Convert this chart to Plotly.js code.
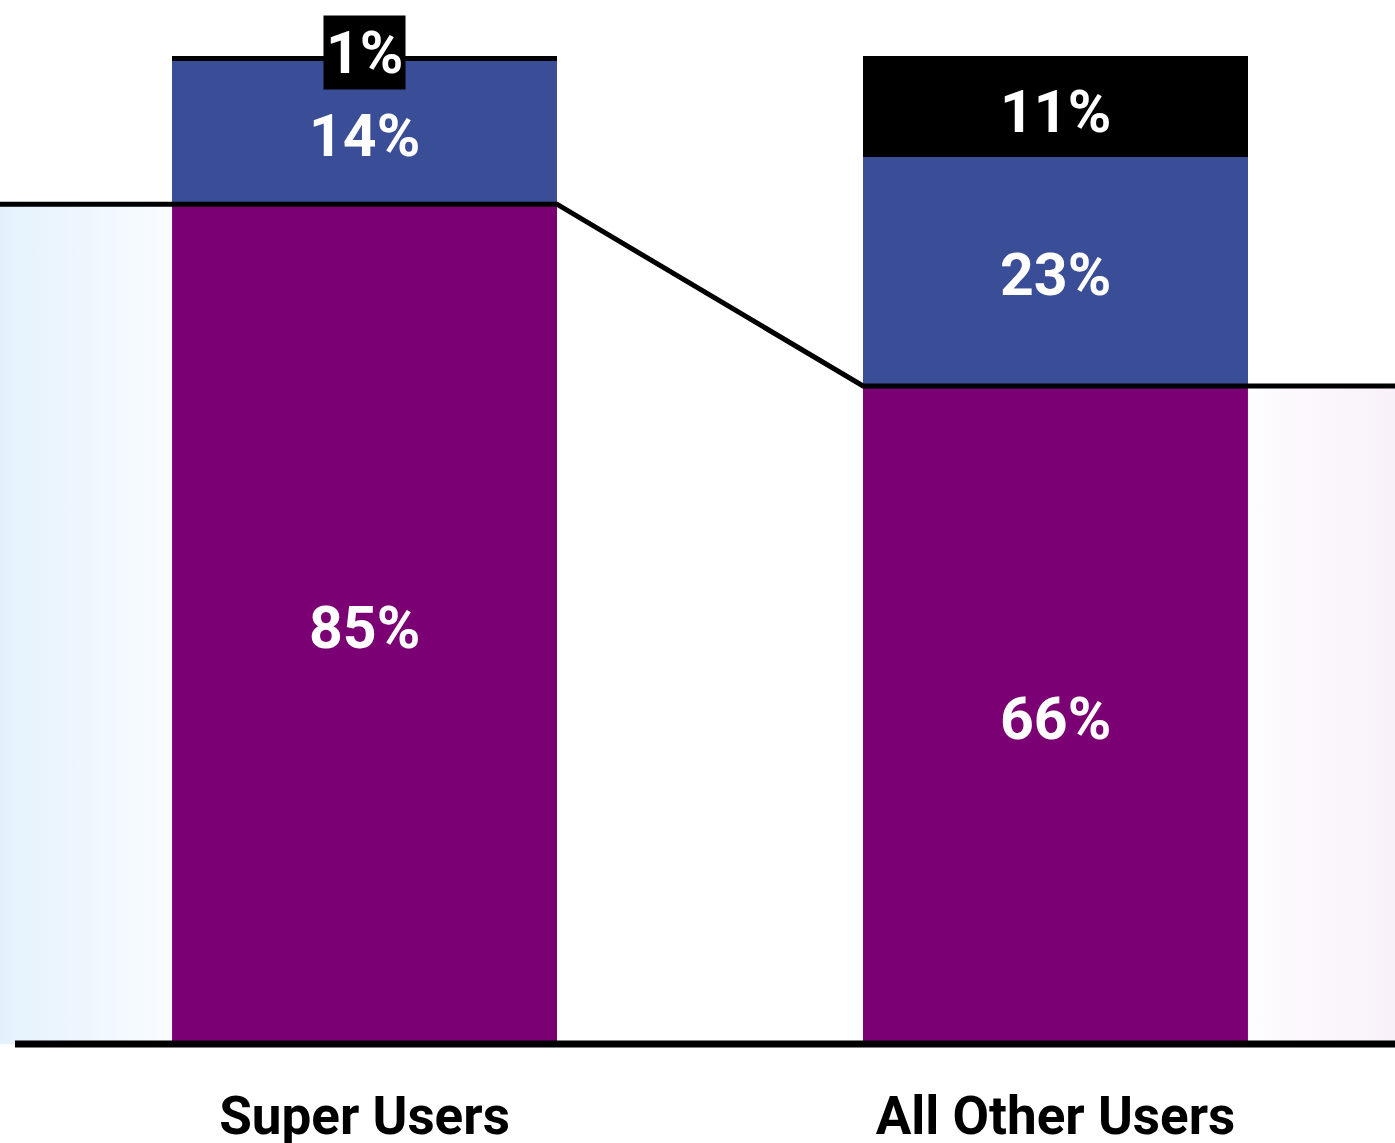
<!DOCTYPE html>
<html>
<head>
<meta charset="utf-8">
<script src="https://cdn.plot.ly/plotly-3.0.1.min.js"></script>
<style>html,body{margin:0;padding:0;background:#fff;}#chart{width:1395px;height:1143px;}</style>
</head>
<body>
<div id="chart"></div>
<script>
// Data
const categories = ["Super Users", "All Other Users"];
const positive = [85, 66.6];
const neutral = [14.5, 23.2];
const negative = [0.5, 10.2];
const positiveLabels = ["85%", "66%"];
const neutralLabels = ["14%", "23%"];
const negativeLabels = ["1%", "11%"];

const colPositive = "#7a0074";
const colNeutral = "#3a4d97";
const colNegative = "#000000";

const xs = [0, 1];
const barWidth = 0.557;
const half = barWidth / 2;
const xMin = -0.5275, xMax = 1.4913;
const yMax = 105.67;

const traces = [];

// soft background fills outside bars, below the connector line
traces.push({
  x: [xMin, xs[0] - half], y: [positive[0], positive[0]],
  type: "scatter", mode: "none", fill: "tozeroy",
  fillgradient: {type: "horizontal", colorscale: [[0, "#e4f1fc"], [1, "#f9fcff"]]},
  hoverinfo: "skip", showlegend: false
});
traces.push({
  x: [xs[1] + half, xMax], y: [positive[1], positive[1]],
  type: "scatter", mode: "none", fill: "tozeroy",
  fillgradient: {type: "horizontal", colorscale: [[0, "#fdfcfe"], [1, "#f9f1fa"]]},
  hoverinfo: "skip", showlegend: false
});

traces.push({x: xs, y: positive, type: "bar", width: barWidth, marker: {color: colPositive}, hoverinfo: "skip", showlegend: false});
traces.push({x: xs, y: neutral, type: "bar", width: barWidth, marker: {color: colNeutral}, hoverinfo: "skip", showlegend: false});
traces.push({x: xs, y: negative, type: "bar", width: barWidth, marker: {color: colNegative}, hoverinfo: "skip", showlegend: false});

// connector line at the top of the purple segment
traces.push({
  x: [xMin, xs[0] + half, xs[1] - half, xMax],
  y: [positive[0], positive[0], positive[1], positive[1]],
  type: "scatter", mode: "lines", line: {color: "#000", width: 5},
  hoverinfo: "skip", showlegend: false
});

const labelFont = {family: "Roboto, sans-serif", size: 59, color: "#ffffff", weight: "bold"};
const annotations = [];
for (let i = 0; i < xs.length; i++) {
  annotations.push({x: xs[i], y: positive[i] / 2, yshift: -3, text: positiveLabels[i], showarrow: false, font: labelFont, xanchor: "center", yanchor: "middle"});
  annotations.push({x: xs[i], y: positive[i] + neutral[i] / 2, yshift: -3, text: neutralLabels[i], showarrow: false, font: labelFont, xanchor: "center", yanchor: "middle"});
  const total = positive[i] + neutral[i] + negative[i];
  if (negative[i] < 3) {
    annotations.push({x: xs[i], y: total, yshift: 4, text: negativeLabels[i], showarrow: false, font: labelFont, xanchor: "center", yanchor: "middle", bgcolor: colNegative, borderpad: 2});
  } else {
    annotations.push({x: xs[i], y: positive[i] + neutral[i] + negative[i] / 2, yshift: -5, text: negativeLabels[i], showarrow: false, font: labelFont, xanchor: "center", yanchor: "middle"});
  }
}

const layout = {
  width: 1395, height: 1143,
  margin: {l: 0, r: 0, t: 0, b: 99, pad: 0},
  paper_bgcolor: "#ffffff", plot_bgcolor: "rgba(0,0,0,0)",
  barmode: "stack", bargap: 0,
  xaxis: {
    range: [xMin, xMax], tickvals: xs, ticktext: categories,
    showgrid: false, zeroline: false, showline: false, ticks: "",
    tickfont: {family: "Roboto, sans-serif", size: 53, color: "#000", weight: "bold"},
    ticklabelstandoff: 36, fixedrange: true
  },
  yaxis: {range: [0, yMax], visible: false, showgrid: false, zeroline: false, fixedrange: true},
  shapes: [{
    type: "line", xref: "paper", yref: "paper", x0: 15 / 1395, x1: 1, y0: 0, y1: 0,
    line: {color: "#000", width: 7}, layer: "above"
  }],
  annotations: annotations,
  showlegend: false
};

Plotly.newPlot("chart", traces, layout, {displayModeBar: false, staticPlot: true});
</script>
</body>
</html>
